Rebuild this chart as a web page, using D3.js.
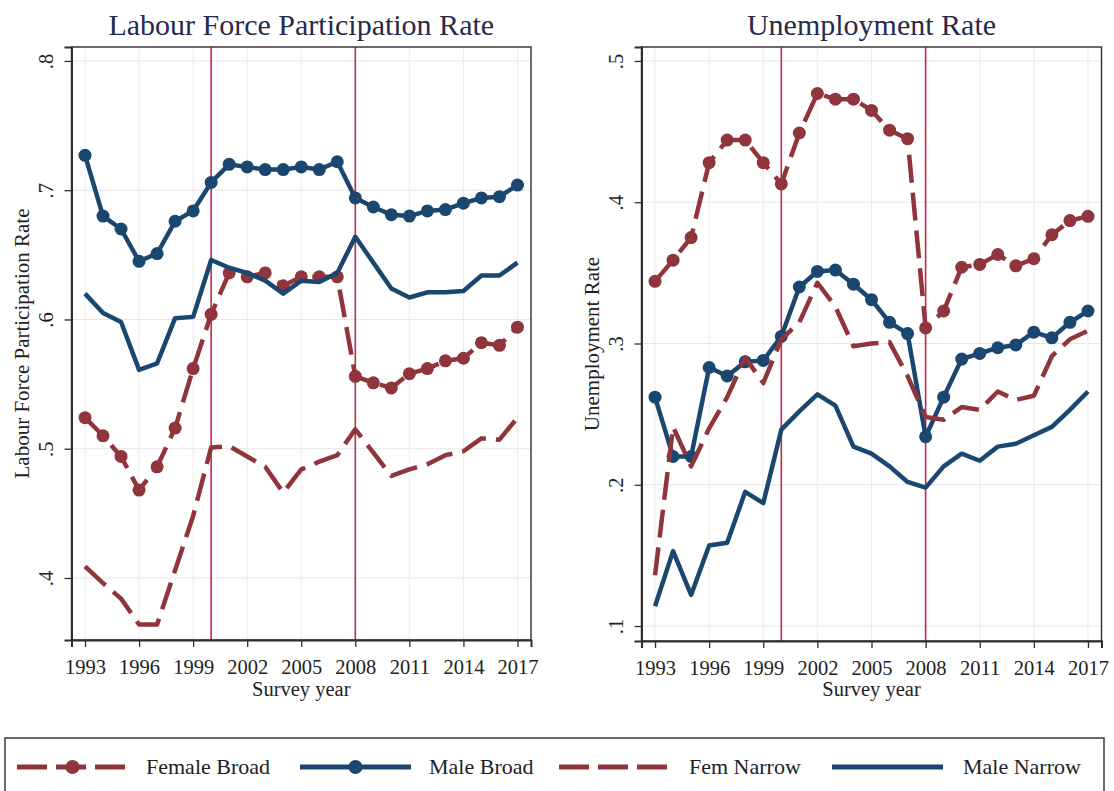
<!DOCTYPE html>
<html>
<head>
<meta charset="utf-8">
<script src="https://cdn.jsdelivr.net/npm/d3@7"></script>
<style>
  body { margin: 0; background: #fff; }
  svg { display: block; }
</style>
</head>
<body>
<svg id="chart" width="1114" height="791"></svg>
<script>
// Survey years and tick labels
const years = [1993, 1994, 1995, 1996, 1997, 1998, 1999, 2000, 2001, 2002, 2003, 2004,
  2005, 2006, 2007, 2008, 2009, 2010, 2011, 2012, 2013, 2014, 2015, 2016, 2017];
const xTicks = [1993, 1996, 1999, 2002, 2005, 2008, 2011, 2014, 2017];
const breakYears = [2000, 2008];

// Labour force participation rate
const lfprFemaleBroad = [0.524, 0.510, 0.494, 0.468, 0.486, 0.516, 0.562, 0.604, 0.636, 0.633, 0.636, 0.626,
  0.633, 0.633, 0.633, 0.556, 0.551, 0.547, 0.558, 0.562, 0.568, 0.570, 0.582, 0.580, 0.594];
const lfprMaleBroad = [0.727, 0.680, 0.670, 0.645, 0.651, 0.676, 0.684, 0.706, 0.720, 0.718, 0.716, 0.716,
  0.718, 0.716, 0.722, 0.694, 0.687, 0.681, 0.680, 0.684, 0.685, 0.690, 0.694, 0.695, 0.704];
const lfprFemNarrow = [0.409, 0.396, 0.384, 0.364, 0.364, 0.406, 0.448, 0.501, 0.502, 0.494, 0.486, 0.466,
  0.484, 0.490, 0.495, 0.515, 0.497, 0.479, 0.484, 0.488, 0.495, 0.498, 0.508, 0.507, 0.524];
const lfprMaleNarrow = [0.620, 0.605, 0.598, 0.561, 0.566, 0.601, 0.602, 0.646, 0.640, 0.636, 0.630, 0.620,
  0.630, 0.629, 0.636, 0.664, 0.644, 0.624, 0.617, 0.621, 0.621, 0.622, 0.634, 0.634, 0.644];
const lfprTicks = [0.4, 0.5, 0.6, 0.7, 0.8];

// Unemployment rate
const urFemaleBroad = [0.344, 0.359, 0.375, 0.428, 0.444, 0.444, 0.428, 0.413, 0.449, 0.477, 0.473, 0.473,
  0.465, 0.451, 0.445, 0.311, 0.323, 0.354, 0.356, 0.363, 0.355, 0.360, 0.377, 0.387, 0.390];
const urMaleBroad = [0.262, 0.220, 0.220, 0.283, 0.277, 0.287, 0.288, 0.305, 0.340, 0.351, 0.352, 0.342,
  0.331, 0.315, 0.307, 0.234, 0.262, 0.289, 0.293, 0.297, 0.299, 0.308, 0.304, 0.315, 0.323];
const urFemNarrow = [0.136, 0.241, 0.213, 0.240, 0.262, 0.290, 0.272, 0.303, 0.315, 0.343, 0.326, 0.298,
  0.300, 0.301, 0.277, 0.248, 0.246, 0.255, 0.253, 0.266, 0.260, 0.263, 0.291, 0.303, 0.309];
const urMaleNarrow = [0.114, 0.153, 0.122, 0.157, 0.159, 0.195, 0.187, 0.239, 0.252, 0.264, 0.256, 0.227,
  0.222, 0.213, 0.202, 0.198, 0.213, 0.222, 0.217, 0.227, 0.229, 0.235, 0.241, 0.253, 0.266];
const urTicks = [0.1, 0.2, 0.3, 0.4, 0.5];

const seriesNames = ['Female Broad', 'Male Broad', 'Fem Narrow', 'Male Narrow'];

const MAROON = '#90353B';
const NAVY = '#1A476F';
const BREAK = '#C8254A';
const SERIF = "'Liberation Serif', 'Times New Roman', serif";

// style per series: colour, dashed?, markers?
const STYLES = {
  'Female Broad': { color: MAROON, dash: '28,10', marker: true },
  'Male Broad':   { color: NAVY,   dash: null,    marker: true },
  'Fem Narrow':   { color: MAROON, dash: '28,10', marker: false },
  'Male Narrow':  { color: NAVY,   dash: null,    marker: false },
};

const svg = d3.select('#chart');

function fmtTick(v) {
  return d3.format('.1f')(v).replace(/^0/, '');
}

function drawPanel(opts) {
  const { left, right, top, bottom, yDomain, yTicks, title, yLabel, series } = opts;
  const g = svg.append('g');

  const x = d3.scaleLinear().domain([1992.25, 2017.75]).range([left, right]);
  const y = d3.scaleLinear().domain(yDomain).range([bottom, top]);

  // Gridlines
  g.append('g').selectAll('line')
    .data(yTicks)
    .join('line')
    .attr('x1', left).attr('x2', right)
    .attr('y1', d => y(d)).attr('y2', d => y(d))
    .attr('stroke', '#e6e6e6').attr('stroke-width', 1);
  g.append('g').selectAll('line')
    .data(xTicks)
    .join('line')
    .attr('x1', d => x(d)).attr('x2', d => x(d))
    .attr('y1', top).attr('y2', bottom)
    .attr('stroke', '#ececec').attr('stroke-width', 1);

  // Break lines
  g.append('g').selectAll('line')
    .data(breakYears)
    .join('line')
    .attr('x1', d => x(d)).attr('x2', d => x(d))
    .attr('y1', top).attr('y2', bottom)
    .attr('stroke', BREAK).attr('stroke-width', 1.6);

  // Series
  const line = d3.line()
    .x((d, i) => x(years[i]))
    .y(d => y(d));

  seriesNames.forEach(name => {
    const st = STYLES[name];
    const vals = series[name];
    g.append('path')
      .datum(vals)
      .attr('d', line)
      .attr('fill', 'none')
      .attr('stroke', st.color)
      .attr('stroke-width', 4.5)
      .attr('stroke-linejoin', 'round')
      .attr('stroke-dasharray', st.dash);
    if (st.marker) {
      g.append('g').selectAll('circle')
        .data(vals)
        .join('circle')
        .attr('cx', (d, i) => x(years[i]))
        .attr('cy', d => y(d))
        .attr('r', 6.5)
        .attr('fill', st.color);
    }
  });

  // Frame
  g.append('rect')
    .attr('x', left).attr('y', top)
    .attr('width', right - left).attr('height', bottom - top)
    .attr('fill', 'none').attr('stroke', '#3a3a3a').attr('stroke-width', 1.5);

  // Axes
  const xAxis = g.append('g')
    .attr('transform', `translate(0,${bottom})`)
    .call(d3.axisBottom(x).tickValues(xTicks).tickFormat(d3.format('d')).tickSize(7));
  const yAxis = g.append('g')
    .attr('transform', `translate(${left},0)`)
    .call(d3.axisLeft(y).tickValues(yTicks).tickFormat(fmtTick).tickSize(7));

  [xAxis, yAxis].forEach(ax => {
    ax.select('.domain').attr('stroke', '#2e2e2e').attr('stroke-width', 2);
    ax.selectAll('.tick line').attr('stroke', '#2e2e2e').attr('stroke-width', 1.3);
    ax.selectAll('text').attr('font-family', SERIF).attr('font-size', 20.5).attr('fill', '#222');
  });
  // baseline of year labels ~34px below the axis
  xAxis.selectAll('.tick text').attr('dy', null).attr('y', 34);

  yAxis.selectAll('.tick text')
    .attr('x', null).attr('dy', null)
    .attr('text-anchor', 'middle')
    .attr('transform', 'translate(-19,0) rotate(-90)');

  // Titles
  g.append('text')
    .attr('x', (left + right) / 2).attr('y', 35)
    .attr('text-anchor', 'middle')
    .attr('font-family', SERIF).attr('font-size', 30)
    .attr('fill', '#262B4A')
    .text(title);

  g.append('text')
    .attr('x', (left + right) / 2).attr('y', 696)
    .attr('text-anchor', 'middle')
    .attr('font-family', SERIF).attr('font-size', 20.5)
    .attr('fill', '#222')
    .text('Survey year');

  g.append('text')
    .attr('transform', `translate(${left - 43},${(top + bottom) / 2}) rotate(-90)`)
    .attr('text-anchor', 'middle')
    .attr('font-family', SERIF).attr('font-size', 21)
    .attr('fill', '#222')
    .text(yLabel);
}

drawPanel({
  left: 71.5, right: 531, top: 47, bottom: 640,
  yDomain: [0.352, 0.8108], yTicks: lfprTicks,
  title: 'Labour Force Participation Rate',
  yLabel: 'Labour Force Participation Rate',
  series: {
    'Female Broad': lfprFemaleBroad,
    'Male Broad': lfprMaleBroad,
    'Fem Narrow': lfprFemNarrow,
    'Male Narrow': lfprMaleNarrow,
  },
});

drawPanel({
  left: 641.5, right: 1101.5, top: 47, bottom: 641,
  yDomain: [0.0894, 0.5099], yTicks: urTicks,
  title: 'Unemployment Rate',
  yLabel: 'Unemployment Rate',
  series: {
    'Female Broad': urFemaleBroad,
    'Male Broad': urMaleBroad,
    'Fem Narrow': urFemNarrow,
    'Male Narrow': urMaleNarrow,
  },
});

// Legend
const legendItems = [
  { name: 'Female Broad', x0: 17, textX: 146 },
  { name: 'Male Broad',   x0: 300, textX: 429 },
  { name: 'Fem Narrow',   x0: 559, textX: 689 },
  { name: 'Male Narrow',  x0: 832, textX: 963 },
];
const LEG_Y = 767;
const SYM_W = 111;

const legend = svg.append('g');
legend.append('rect')
  .attr('x', 5).attr('y', 738)
  .attr('width', 1099).attr('height', 70)
  .attr('fill', '#fff').attr('stroke', '#3a3a3a').attr('stroke-width', 1.5);

legendItems.forEach(item => {
  const st = STYLES[item.name];
  legend.append('line')
    .attr('x1', item.x0).attr('x2', item.x0 + SYM_W)
    .attr('y1', LEG_Y).attr('y2', LEG_Y)
    .attr('stroke', st.color).attr('stroke-width', 5)
    .attr('stroke-dasharray', st.dash ? '30,9' : null);
  if (st.marker) {
    legend.append('circle')
      .attr('cx', item.x0 + SYM_W / 2).attr('cy', LEG_Y)
      .attr('r', 7).attr('fill', st.color);
  }
  legend.append('text')
    .attr('x', item.textX).attr('y', LEG_Y + 7)
    .attr('font-family', SERIF).attr('font-size', 22)
    .attr('fill', '#222')
    .text(item.name);
});
</script>
</body>
</html>
